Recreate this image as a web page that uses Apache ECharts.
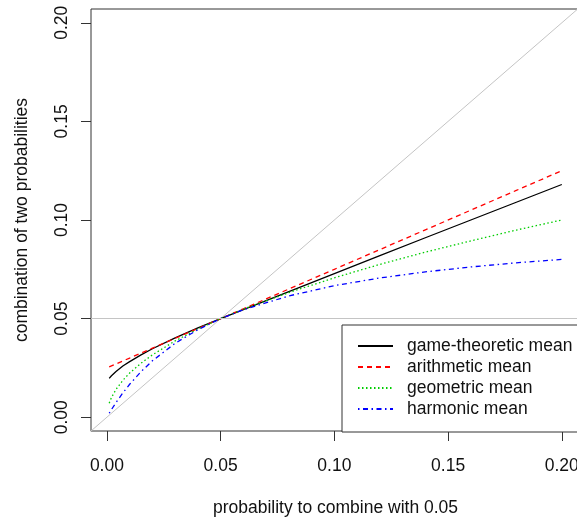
<!DOCTYPE html>
<html>
<head>
<meta charset="utf-8">
<script src="https://cdn.jsdelivr.net/npm/echarts@6/dist/echarts.min.js"></script>
<style>
  html, body { margin: 0; padding: 0; background: #fff; }
  #chart { width: 577px; height: 522px; }
</style>
</head>
<body>
<div id="chart"></div>
<script>
// probabilities combined with 0.05
var probs = [0.001, 0.002, 0.004, 0.007, 0.01, 0.015, 0.02, 0.03, 0.04, 0.05,
             0.06, 0.08, 0.1, 0.12, 0.14, 0.16, 0.18, 0.2];
var gameMean = [0.0197, 0.0210, 0.0232, 0.0260, 0.0282, 0.0316, 0.0347, 0.0402, 0.0453, 0.05,
                0.0546, 0.0637, 0.0728, 0.0819, 0.0910, 0.1000, 0.1090, 0.118];
var arithMean = [0.0255, 0.026, 0.027, 0.0285, 0.03, 0.0325, 0.035, 0.04, 0.045, 0.05,
                 0.055, 0.065, 0.075, 0.085, 0.095, 0.105, 0.115, 0.125];
var geoMean = [0.0071, 0.0100, 0.0141, 0.0187, 0.0224, 0.0274, 0.0316, 0.0387, 0.0447, 0.05,
               0.0548, 0.0632, 0.0707, 0.0775, 0.0837, 0.0894, 0.0949, 0.1];
var harmMean = [0.0020, 0.0039, 0.0074, 0.0123, 0.0167, 0.0231, 0.0286, 0.0375, 0.0444, 0.05,
                0.0545, 0.0615, 0.0667, 0.0706, 0.0737, 0.0762, 0.0783, 0.08];

var diagonal = [-0.01, 0.21];
var fixedP = 0.05;
var xTicks = [0, 0.05, 0.1, 0.15, 0.2];
var yTicks = [0, 0.05, 0.1, 0.15, 0.2];
var seriesNames = ["game-theoretic mean", "arithmetic mean", "geometric mean", "harmonic mean"];

var FONT = "'Liberation Sans', Arial, sans-serif";
var TXT = "#111";
var FS = 17.5;

function pairs(ys) {
  return probs.map(function (p, i) { return [p, ys[i]]; });
}

function meanSeries(name, ys, color, dash) {
  return {
    name: name,
    type: "line",
    data: pairs(ys),
    symbol: "none",
    smooth: false,
    lineStyle: { color: color, width: 1.3, type: dash },
    itemStyle: { color: color },
    z: 3
  };
}

var myChart = echarts.init(document.getElementById("chart"), null, { renderer: "canvas" });

var option = {
  animation: false,
  backgroundColor: "#fff",
  textStyle: { fontFamily: FONT, color: TXT },
  grid: {
    left: 91, top: 9, width: 489, height: 422,
    show: true, borderColor: "#333", borderWidth: 1,
    outerBoundsMode: "none"
  },
  legend: {
    data: seriesNames,
    orient: "vertical",
    left: 342, top: 325,
    padding: [11, 20, 13, 15],
    itemGap: 1,
    itemWidth: 35, itemHeight: 14,
    itemStyle: { opacity: 0 },
    borderColor: "#333", borderWidth: 1,
    backgroundColor: "#fff",
    textStyle: { fontFamily: FONT, fontSize: FS, color: TXT, lineHeight: 20, padding: [0, 0, 0, 9] }
  },
  xAxis: {
    type: "value",
    min: -0.007, max: 0.208,
    name: "probability to combine with 0.05",
    nameLocation: "middle",
    nameGap: 68,
    nameTextStyle: { fontFamily: FONT, fontSize: FS, color: TXT },
    axisLine: { show: false, onZero: false },
    splitLine: { show: false },
    axisTick: { show: true, inside: false, length: 10, customValues: xTicks, lineStyle: { color: "#333" } },
    axisLabel: {
      customValues: xTicks, margin: 26,
      fontFamily: FONT, fontSize: FS, color: TXT,
      formatter: function (v) { return v.toFixed(2); }
    }
  },
  yAxis: {
    type: "value",
    min: -0.007, max: 0.207,
    name: "combination of two probabilities",
    nameLocation: "middle",
    nameGap: 60,
    nameTextStyle: { fontFamily: FONT, fontSize: FS, color: TXT },
    axisLine: { show: false, onZero: false },
    splitLine: { show: false },
    axisTick: { show: true, inside: false, length: 10, customValues: yTicks, lineStyle: { color: "#333" } },
    axisLabel: {
      customValues: yTicks, margin: 20, rotate: 90,
      fontFamily: FONT, fontSize: FS, color: TXT,
      formatter: function (v) { return v.toFixed(2); }
    }
  },
  series: [
    {
      name: "reference",
      type: "line",
      data: diagonal.map(function (v) { return [v, v]; }),
      symbol: "none",
      silent: true,
      lineStyle: { color: "#c4c4c4", width: 1 },
      z: 1,
      markLine: {
        silent: true,
        symbol: "none",
        label: { show: false },
        lineStyle: { color: "#c4c4c4", width: 1, type: "solid" },
        data: [{ yAxis: fixedP }]
      }
    },
    meanSeries(seriesNames[0], gameMean, "#000000", "solid"),
    meanSeries(seriesNames[1], arithMean, "#ff0000", [5, 4]),
    meanSeries(seriesNames[2], geoMean, "#00cd00", [1.5, 2.5]),
    meanSeries(seriesNames[3], harmMean, "#0000ff", [1.5, 3.5, 5, 3.5])
  ]
};

myChart.setOption(option);
</script>
</body>
</html>
